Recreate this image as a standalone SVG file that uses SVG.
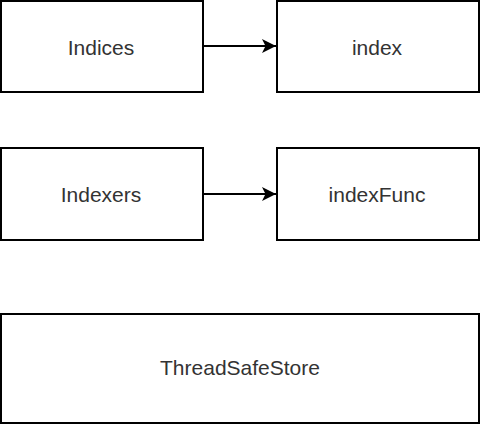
<svg xmlns="http://www.w3.org/2000/svg" width="480" height="425" viewBox="0 0 480 425">
<defs>
<style>
.box{fill:#fff;stroke:#000;stroke-width:2}
.lbl{font-family:"Liberation Sans",Arial,sans-serif;font-size:21px;fill:#333;text-anchor:middle}
.edge{stroke:#000;stroke-width:2;fill:none}
</style>
<marker id="arr" markerWidth="15" markerHeight="14" refX="14" refY="7" orient="auto" markerUnits="userSpaceOnUse">
<path d="M0,0 L14,7 L0,14 L3.5,7 Z" fill="#000"/>
</marker>
</defs>
<rect width="480" height="425" fill="#fff"/>
<g id="connectors">
<line class="edge" x1="203" y1="46" x2="276" y2="46" marker-end="url(#arr)"/>
<line class="edge" x1="203" y1="194" x2="276" y2="194" marker-end="url(#arr)"/>
</g>
<g id="indices"><rect class="box" x="1" y="1" width="202" height="91"/><text class="lbl" x="101" y="55">Indices</text></g>
<g id="index"><rect class="box" x="277" y="1" width="202" height="91"/><text class="lbl" x="377" y="55">index</text></g>
<g id="indexers"><rect class="box" x="1" y="148" width="202" height="92"/><text class="lbl" x="101" y="202">Indexers</text></g>
<g id="indexFunc"><rect class="box" x="277" y="148" width="202" height="92"/><text class="lbl" x="377" y="202">indexFunc</text></g>
<g id="threadSafeStore"><rect class="box" x="1" y="314" width="478" height="109"/><text class="lbl" x="240" y="375">ThreadSafeStore</text></g>
</svg>
